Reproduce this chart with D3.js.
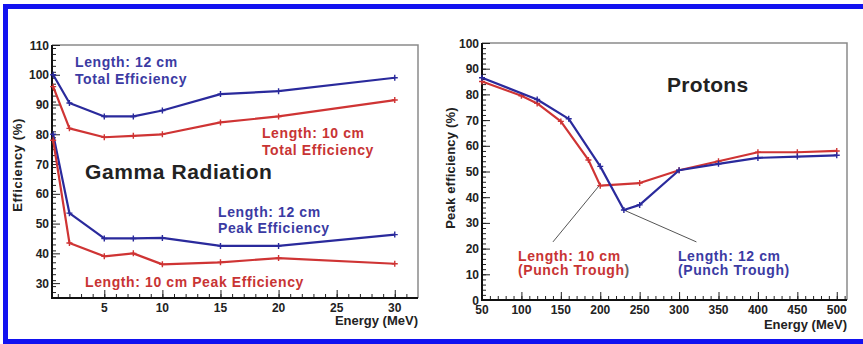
<!DOCTYPE html>
<html><head><meta charset="utf-8">
<script src="https://cdn.jsdelivr.net/npm/d3@7"></script>
<style>
body{margin:0;background:#fff}
svg{display:block}
text{font-family:"Liberation Sans",Arial,sans-serif;font-weight:bold}
</style>
</head><body>
<svg id="c" width="863" height="344"></svg>
<script>
// ---------- data: gamma radiation ----------
const gammaEnergy = [0.6, 2, 5, 7.5, 10, 15, 20, 30];
const gammaTotal12 = [100, 90.5, 86, 86, 88, 93.5, 94.5, 99];
const gammaTotal10 = [96, 82, 79, 79.5, 80, 84, 86, 91.5];
const gammaPeak12 = [80, 53.5, 45, 45, 45.2, 42.5, 42.5, 46.3];
const gammaPeak10 = [78, 43.5, 39, 40, 36.3, 37, 38.4, 36.5];
const gammaXTicks = [5, 10, 15, 20, 25, 30];
const gammaYTicks = [30, 40, 50, 60, 70, 80, 90, 100, 110];

// ---------- data: protons ----------
const protonEnergy10 = [50, 100, 120, 150, 185, 200, 250, 300, 350, 400, 450, 500];
const proton10 = [85, 79.5, 76.5, 69.5, 54.5, 44.5, 45.5, 50.5, 54, 57.5, 57.5, 58];
const protonEnergy12 = [50, 120, 160, 200, 230, 250, 300, 350, 400, 450, 500];
const proton12 = [86.5, 78, 70.5, 52, 35, 37, 50.5, 53, 55.3, 55.8, 56.3];
const protonXTicks = [50, 100, 150, 200, 250, 300, 350, 400, 450, 500];
const protonYTicks = [0, 10, 20, 30, 40, 50, 60, 70, 80, 90, 100];

const BLUE = "#2a2a9c", RED = "#cf3434", BLUE_T = "#3b3ba3", RED_T = "#c83434";

const svg = d3.select("#c");

// outer blue frame (open to the right)
svg.append("rect").attr("x", 5.5).attr("y", 6.5).attr("width", 900).attr("height", 335)
  .attr("fill", "none").attr("stroke", "#1212f0").attr("stroke-width", 5);

function panel(cfg) {
  const g = svg.append("g");
  const x = d3.scaleLinear().domain(cfg.xDomain).range(cfg.xRange);
  const y = d3.scaleLinear().domain(cfg.yDomain).range(cfg.yRange);
  const [x0, x1] = cfg.xRange, [y0, y1] = cfg.yRange;
  g.append("path").attr("d", `M${x0},${y1}H${x1}V${y0}`).attr("fill", "none")
    .attr("stroke", "#8a8a8a").attr("stroke-width", 1.5);
  const yMinor = d3.range(cfg.yDomain[0], cfg.yDomain[1] + 1e-9, cfg.yMinor);
  g.append("g").attr("transform", `translate(${x0},0)`)
    .call(d3.axisRight(y).tickValues(yMinor).tickSize(4).tickFormat(""))
    .call(a => a.select(".domain").remove())
    .selectAll("line").attr("stroke", "#222");
  const xMinor = d3.range(cfg.xMinorStart, cfg.xDomain[1], cfg.xMinor);
  g.append("g").attr("transform", `translate(0,${y0})`)
    .call(d3.axisTop(x).tickValues(xMinor).tickSize(4).tickFormat(""))
    .call(a => a.select(".domain").remove())
    .selectAll("line").attr("stroke", "#222");
  const ya = g.append("g").attr("transform", `translate(${x0},0)`)
    .call(d3.axisRight(y).tickValues(cfg.yTicks).tickSize(8).tickFormat(""));
  ya.select(".domain").remove();
  ya.selectAll("line").attr("stroke", "#222");
  const xa = g.append("g").attr("transform", `translate(0,${y0})`)
    .call(d3.axisTop(x).tickValues(cfg.xTicks).tickSize(8).tickFormat(""));
  xa.select(".domain").remove();
  xa.selectAll("line").attr("stroke", "#222");
  g.append("g").selectAll("text").data(cfg.yTicks).join("text")
    .attr("x", x0 - 3).attr("y", d => y(d) + 4.5).attr("text-anchor", "end")
    .attr("font-size", 12).attr("fill", "#222").text(d => d);
  g.append("g").selectAll("text").data(cfg.xTicks).join("text")
    .attr("x", d => x(d) + cfg.xLabelDx).attr("y", y0 + 14).attr("text-anchor", "middle")
    .attr("font-size", 12).attr("fill", "#222").text(d => d);
  g.append("path").attr("d", `M${x0},${y1}V${y0}H${x1}`).attr("fill", "none")
    .attr("stroke", "#111").attr("stroke-width", 2);
  g.append("text").attr("x", x1).attr("y", cfg.xTitleY).attr("text-anchor", "end")
    .attr("font-size", 13).attr("fill", "#222").text("Energy (MeV)");
  g.append("text").attr("transform", `translate(${cfg.yTitleX},${cfg.yTitleY}) rotate(-90)`)
    .attr("text-anchor", "middle").attr("font-size", cfg.yTitleSize).attr("fill", "#222")
    .attr("letter-spacing", cfg.yTitleLs).text(cfg.yTitle);
  return {g, x, y};
}

function series(p, xs, ys, color) {
  const pts = xs.map((v, i) => [v, ys[i]]);
  p.g.append("path").datum(pts)
    .attr("d", d3.line().x(d => p.x(d[0])).y(d => p.y(d[1])))
    .attr("fill", "none").attr("stroke", color).attr("stroke-width", 2.2)
    .attr("stroke-linejoin", "round");
  p.g.append("g").selectAll("path").data(pts).join("path")
    .attr("d", d => `M${p.x(d[0]) - 3},${p.y(d[1])}h6M${p.x(d[0])},${p.y(d[1]) - 3}v6`)
    .attr("stroke", color).attr("stroke-width", 1.4);
}

function label(p, xv, yv, lines, color, size, ls) {
  const t = p.g.append("text").attr("font-size", size).attr("fill", color)
    .attr("letter-spacing", ls);
  lines.forEach((ln, i) => {
    t.append("tspan").attr("x", p.x(xv)).attr("y", p.y(yv[i])).text(ln);
  });
  return t;
}

// ---------- left panel ----------
const L = panel({
  xDomain: [0.5, 32], xRange: [52, 418], yDomain: [25, 110], yRange: [298, 45],
  xTicks: gammaXTicks, yTicks: gammaYTicks, yMinor: 2, xMinor: 1, xMinorStart: 1,
  xLabelDx: 0, xTitleY: 325, yTitle: "Efficiency (%)", yTitleX: 22, yTitleY: 165,
  yTitleSize: 13, yTitleLs: 0.6
});
series(L, gammaEnergy, gammaTotal12, BLUE);
series(L, gammaEnergy, gammaTotal10, RED);
series(L, gammaEnergy, gammaPeak12, BLUE);
series(L, gammaEnergy, gammaPeak10, RED);
label(L, 2.48, [102.6, 96.9], ["Length: 12 cm", "Total Efficiency"], BLUE_T, 14, 0.6);
label(L, 18.57, [78.8, 73.0], ["Length: 10 cm", "Total Efficiency"], RED_T, 14, 0.6);
label(L, 3.34, [65], ["Gamma Radiation"], "#222", 21, 0.6);
label(L, 14.79, [52.2, 46.8], ["Length: 12 cm", "Peak Efficiency"], BLUE_T, 14, 0.6);
label(L, 3.34, [28.7], ["Length: 10 cm Peak Efficiency"], RED_T, 14, 0.6);

// ---------- right panel ----------
const R = panel({
  xDomain: [50, 513], xRange: [482, 847], yDomain: [0, 100], yRange: [300, 43],
  xTicks: protonXTicks, yTicks: protonYTicks, yMinor: 2, xMinor: 10, xMinorStart: 60,
  xLabelDx: 0, xTitleY: 329, yTitle: "Peak efficiency (%)", yTitleX: 455, yTitleY: 168,
  yTitleSize: 13, yTitleLs: 0.2
});
const leaders = [[[200, 45], [140, 22.6]], [[230, 35], [322, 22.6]]];
R.g.append("g").selectAll("line").data(leaders).join("line")
  .attr("x1", d => R.x(d[0][0])).attr("y1", d => R.y(d[0][1]))
  .attr("x2", d => R.x(d[1][0])).attr("y2", d => R.y(d[1][1]))
  .attr("stroke", "#555").attr("stroke-width", 1);
series(R, protonEnergy10, proton10, RED);
series(R, protonEnergy12, proton12, BLUE);
label(R, 284.7, [80.9], ["Protons"], "#222", 21, 0.3);
const t10 = label(R, 95.7, [15.2, 9.7], ["Length: 10 cm", "(Punch Trough"], RED_T, 14, 0.6);
t10.append("tspan").attr("fill", "#666").text(")");
label(R, 298.6, [15.2, 9.7], ["Length: 12 cm", "(Punch Trough)"], BLUE_T, 14, 0.6);
</script>
</body></html>
